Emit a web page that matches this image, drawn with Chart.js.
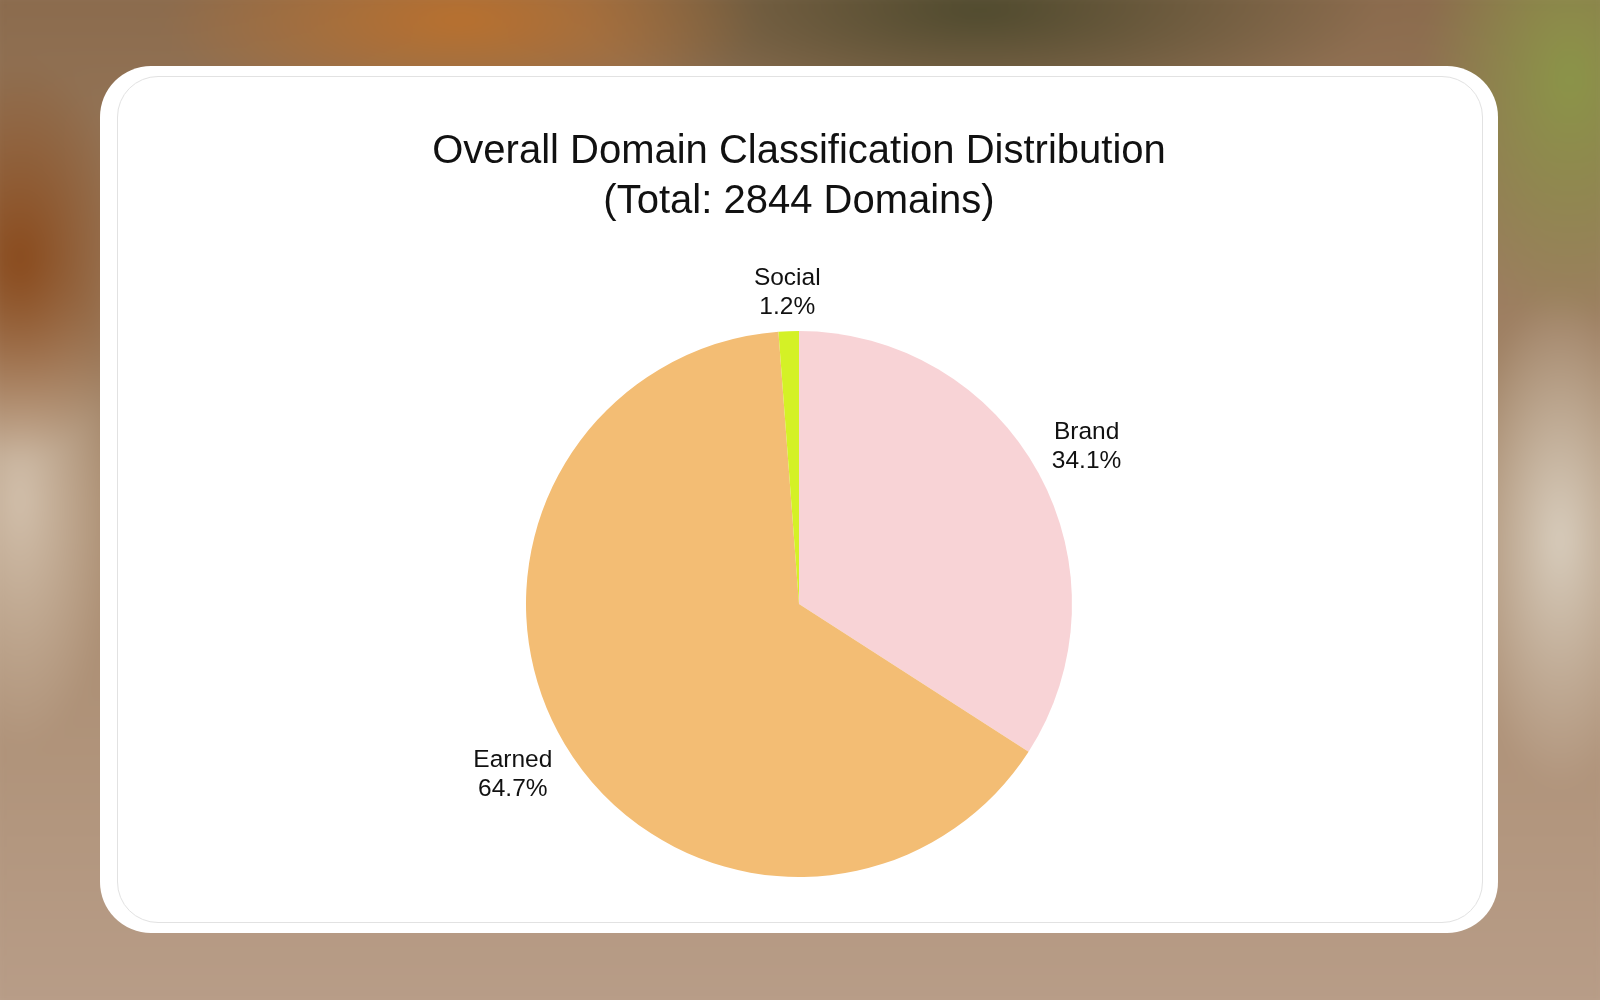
<!DOCTYPE html>
<html><head><meta charset="utf-8">
<script src="https://cdn.jsdelivr.net/npm/chart.js@4"></script>
<style>
html,body{margin:0;width:1600px;height:1000px;overflow:hidden;font-family:"Liberation Sans",Arial,sans-serif}
#bg{position:absolute;inset:-20px;background:
radial-gradient(ellipse 120px 200px at 40px 280px,#8a4a1c 0%,transparent 100%),
radial-gradient(ellipse 300px 100px at 480px 40px,#b9702e 0%,transparent 100%),
radial-gradient(ellipse 400px 120px at 1000px 30px,#4f4a2e 0%,transparent 100%),
radial-gradient(ellipse 150px 250px at 1590px 100px,#8b9548 0%,transparent 100%),
radial-gradient(ellipse 100px 250px at 1580px 560px,#d8cdbd 0%,transparent 100%),
radial-gradient(ellipse 100px 250px at 40px 520px,#d2c0ac 0%,transparent 100%),
linear-gradient(180deg,#8a6a4c 0%,#a88a6d 50%,#b89d88 100%);filter:blur(10px)}
#card{position:absolute;left:100px;top:66px;width:1398px;height:867px;background:#fff;border-radius:51px}
#inner{position:absolute;left:17px;top:10px;width:1366px;height:847px;box-sizing:border-box;border:1px solid #e2e2e2;border-radius:41px}
#wrap{position:absolute;left:0;top:0;width:1398px;height:867px}
</style></head><body>
<div id="bg"></div>
<div id="card"><div id="inner"></div><div id="wrap"><canvas id="c"></canvas></div></div>
<script>
const categories=["Brand","Earned","Social"];
const percents=[34.1,64.7,1.2];
const colors=["#f8d3d6","#f3bd74","#d4f126"];
const labelPlugin={id:'lbl',afterDatasetsDraw(chart){
 const ctx=chart.ctx;const meta=chart.getDatasetMeta(0);
 ctx.save();ctx.font='24.5px "Liberation Sans", Arial, sans-serif';ctx.fillStyle='#111';ctx.textAlign='center';ctx.textBaseline='middle';
 const f=[1.2,1.22,1.14];
 meta.data.forEach((a,i)=>{const m=(a.startAngle+a.endAngle)/2;const r=a.outerRadius*f[i];
  const x=a.x+Math.cos(m)*r,y=a.y+Math.sin(m)*r;
  ctx.fillText(categories[i],x,y-14.5);ctx.fillText(percents[i].toFixed(1)+'%',x,y+14.5);});
 ctx.restore();}};
new Chart(document.getElementById('c'),{type:'pie',
 data:{labels:categories,datasets:[{data:percents,backgroundColor:colors,borderWidth:0}]},
 options:{responsive:true,maintainAspectRatio:false,animation:false,
  layout:{padding:{top:20,bottom:56,left:0,right:0}},
  plugins:{legend:{display:false},tooltip:{enabled:false},
   title:{display:true,text:["Overall Domain Classification Distribution","(Total: 2844 Domains)"],color:'#111',
    font:{family:'"Liberation Sans", Arial, sans-serif',size:40,weight:'normal',lineHeight:1.25},padding:{top:41,bottom:104}}}},
 plugins:[labelPlugin]});
</script></body></html>
